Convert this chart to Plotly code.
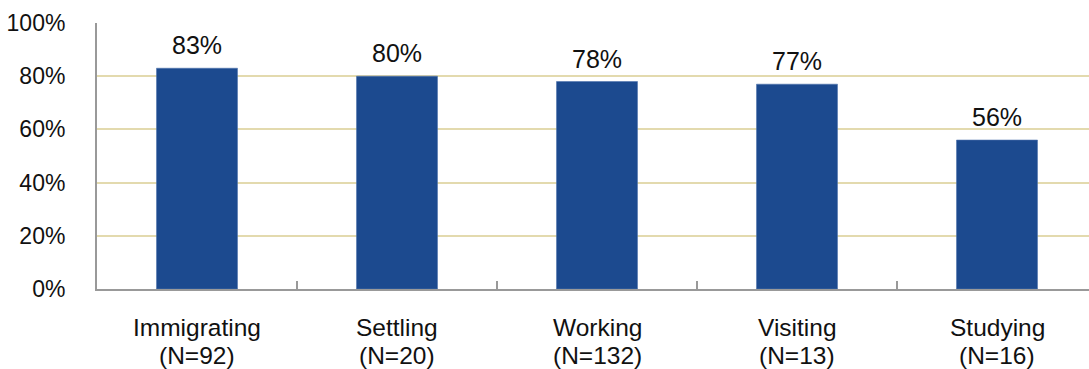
import plotly.graph_objects as go

categories = ["Immigrating", "Settling", "Working", "Visiting", "Studying"]
sample_sizes = ["(N=92)", "(N=20)", "(N=132)", "(N=13)", "(N=16)"]
values = [83, 80, 78, 77, 56]
y_ticks = [0, 20, 40, 60, 80, 100]
y_tick_labels = ["0%", "20%", "40%", "60%", "80%", "100%"]

bar_color = "#1C4A8F"
grid_color = "#E3DAAE"
axis_color = "#999999"
text_color = "#111111"
font_family = "Liberation Sans, Arial, sans-serif"

fig = go.Figure()
fig.add_trace(go.Bar(
    x=categories,
    y=values,
    marker=dict(color=bar_color, line=dict(color="#4F74AD", width=0.6)),
    width=0.405,
    hoverinfo="skip",
))

# value labels above each bar
for cat, v in zip(categories, values):
    fig.add_annotation(
        x=cat, y=v, text=f"{v}%", showarrow=False,
        yanchor="bottom", yshift=7,
        font=dict(family=font_family, size=25, color=text_color),
    )

# two-line category labels under the axis, set tightly
for cat, n in zip(categories, sample_sizes):
    fig.add_annotation(
        x=cat, y=0, yref="paper", text=cat, showarrow=False,
        yanchor="middle", yshift=-38,
        font=dict(family=font_family, size=24.5, color=text_color),
    )
    fig.add_annotation(
        x=cat, y=0, yref="paper", text=n, showarrow=False,
        yanchor="middle", yshift=-66,
        font=dict(family=font_family, size=24.5, color=text_color),
    )

fig.update_layout(
    width=1089, height=369,
    margin=dict(l=97, r=0, t=23, b=80),
    paper_bgcolor="white", plot_bgcolor="white",
    showlegend=False,
    font=dict(family=font_family, size=23, color=text_color),
)

fig.update_xaxes(
    type="category",
    range=[-0.5, 4.46],
    showgrid=False,
    showline=True, linecolor=axis_color, linewidth=2,
    ticks="inside", tickson="boundaries", ticklen=8, tickcolor=axis_color, tickwidth=1.5,
    showticklabels=False,
)

fig.update_yaxes(
    range=[0, 100],
    tickvals=y_ticks, ticktext=y_tick_labels,
    showgrid=True, gridcolor=grid_color, gridwidth=2,
    showline=True, linecolor=axis_color, linewidth=2,
    zeroline=False,
    ticks="", ticklabelstandoff=25,
    tickfont=dict(family=font_family, size=23, color=text_color),
)

fig.write_html("out.html")
